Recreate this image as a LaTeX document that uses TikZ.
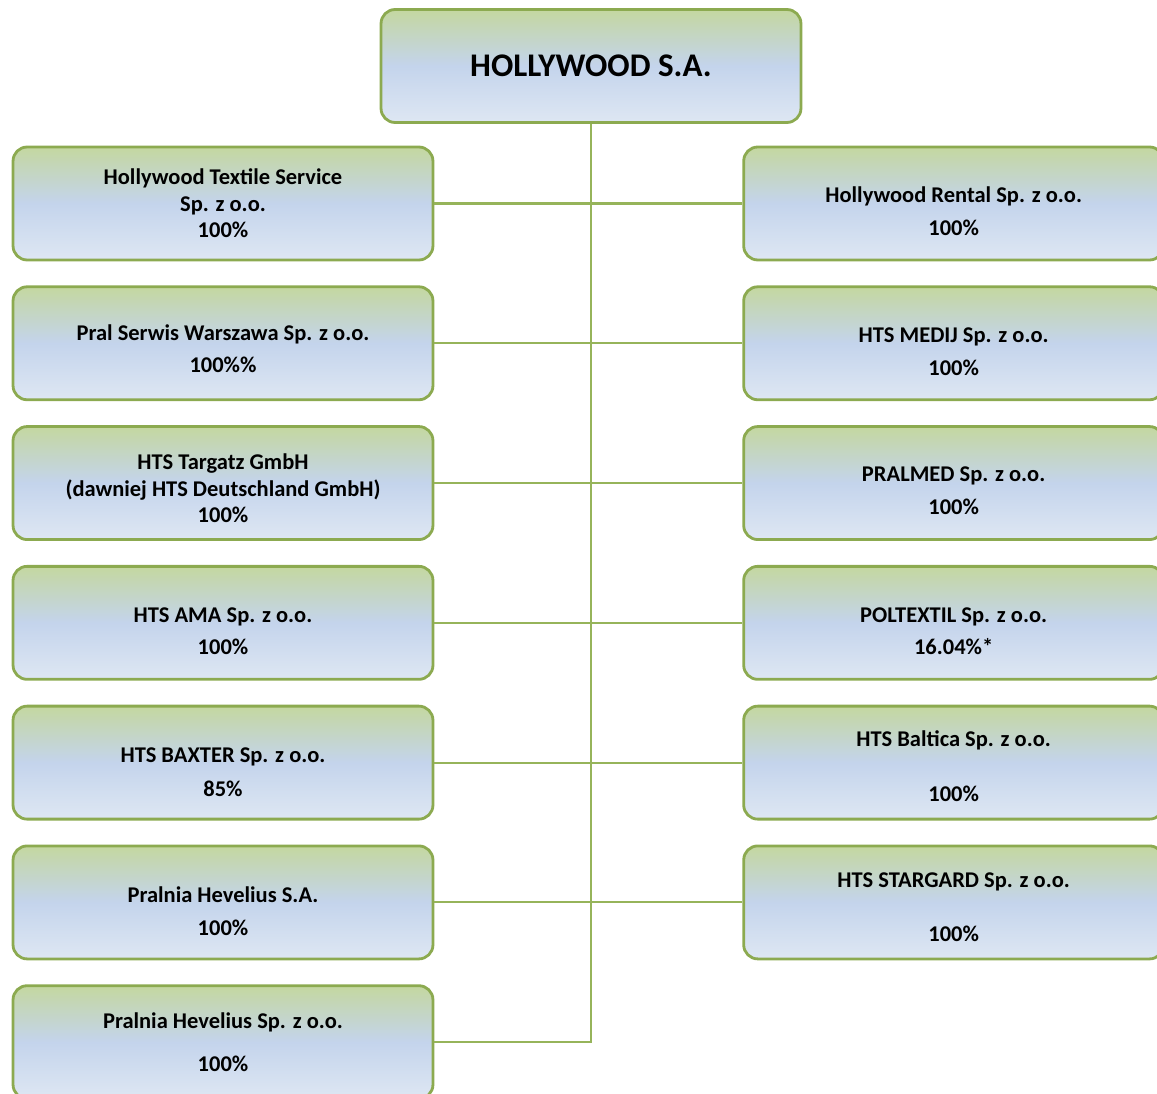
\documentclass[tikz,border=0pt]{standalone}
\usepackage{fontspec}
\setmainfont{Carlito}
\usetikzlibrary{positioning}

\definecolor{boxgreen}{RGB}{196,215,160}
\definecolor{boxblue}{RGB}{196,212,236}
\definecolor{boxpale}{RGB}{222,231,243}
\definecolor{boxedge}{RGB}{140,170,80}
\definecolor{linkgreen}{RGB}{150,180,90}

% pushes a node's text down a little
\newcommand{\padtop}[1]{\rule{0pt}{\dimexpr 9pt+#1\relax}}

\begin{document}
\begin{tikzpicture}[
    x=0.02cm, y=-0.02cm,
    every node/.style={font=\bfseries\fontsize{12.8}{15}\selectfont},
    orgnode/.style={
        rectangle,
        rounded corners=8pt,
        draw=boxedge,
        line width=1.6pt,
        top color=boxgreen,
        bottom color=boxpale,
        middle color=boxblue,
        minimum width=8.4cm,
        minimum height=2.26cm,
        align=center
    },
    link/.style={draw=linkgreen, line width=1.2pt}
]

\useasboundingbox (0,0) rectangle (1157,1094);

\node[orgnode, font=\bfseries\fontsize{18.8}{22}\selectfont] (hollywood) at (591,66)
    {HOLLYWOOD S.A.};

\node[orgnode] (textile) at (223,203.5)
    {Hollywood Textile Service\\Sp. z o.o.\\100\%};
\node[orgnode, below=0.48cm of textile] (pralserwis)
    {\padtop{6pt}Pral Serwis Warszawa Sp. z o.o.\\[3pt]100\%\%};
\node[orgnode, below=0.48cm of pralserwis] (targatz)
    {\padtop{6pt}HTS Targatz GmbH\\(dawniej HTS Deutschland GmbH)\\100\%};
\node[orgnode, below=0.48cm of targatz] (ama)
    {\padtop{9pt}HTS AMA Sp. z o.o.\\[3.5pt]100\%};
\node[orgnode, below=0.48cm of ama] (baxter)
    {\padtop{10pt}HTS BAXTER Sp. z o.o.\\[4.5pt]85\%};
\node[orgnode, below=0.48cm of baxter] (heveliussa)
    {\padtop{10pt}Pralnia Hevelius S.A.\\[4pt]100\%};
\node[orgnode, below=0.48cm of heveliussa] (heveliussp)
    {Pralnia Hevelius Sp. z o.o.\\[10pt]100\%};

\node[orgnode, right=6.16cm of textile] (rental)
    {\padtop{8.5pt}Hollywood Rental Sp. z o.o.\\[4pt]100\%};
\node[orgnode, right=6.16cm of pralserwis] (medij)
    {\padtop{9pt}HTS MEDIJ Sp. z o.o.\\[3.5pt]100\%};
\node[orgnode, right=6.16cm of targatz] (pralmed)
    {\padtop{8pt}PRALMED Sp. z o.o.\\[3.5pt]100\%};
\node[orgnode, right=6.16cm of ama] (poltextil)
    {\padtop{9pt}POLTEXTIL Sp. z o.o.\\[3.5pt]16.04\%*};
\node[orgnode, right=6.16cm of baxter] (baltica)
    {\padtop{4pt}HTS Baltica Sp. z o.o.\\[16.5pt]100\%};
\node[orgnode, right=6.16cm of heveliussa] (stargard)
    {\padtop{5pt}HTS STARGARD Sp. z o.o.\\[16pt]100\%};

% trunk and branches
\draw[link] (hollywood.south) |- (heveliussp.east);
\draw[link] (textile.east) -- (rental.west);
\draw[link] (pralserwis.east) -- (medij.west);
\draw[link] (targatz.east) -- (pralmed.west);
\draw[link] (ama.east) -- (poltextil.west);
\draw[link] (baxter.east) -- (baltica.west);
\draw[link] (heveliussa.east) -- (stargard.west);

\end{tikzpicture}
\end{document}
